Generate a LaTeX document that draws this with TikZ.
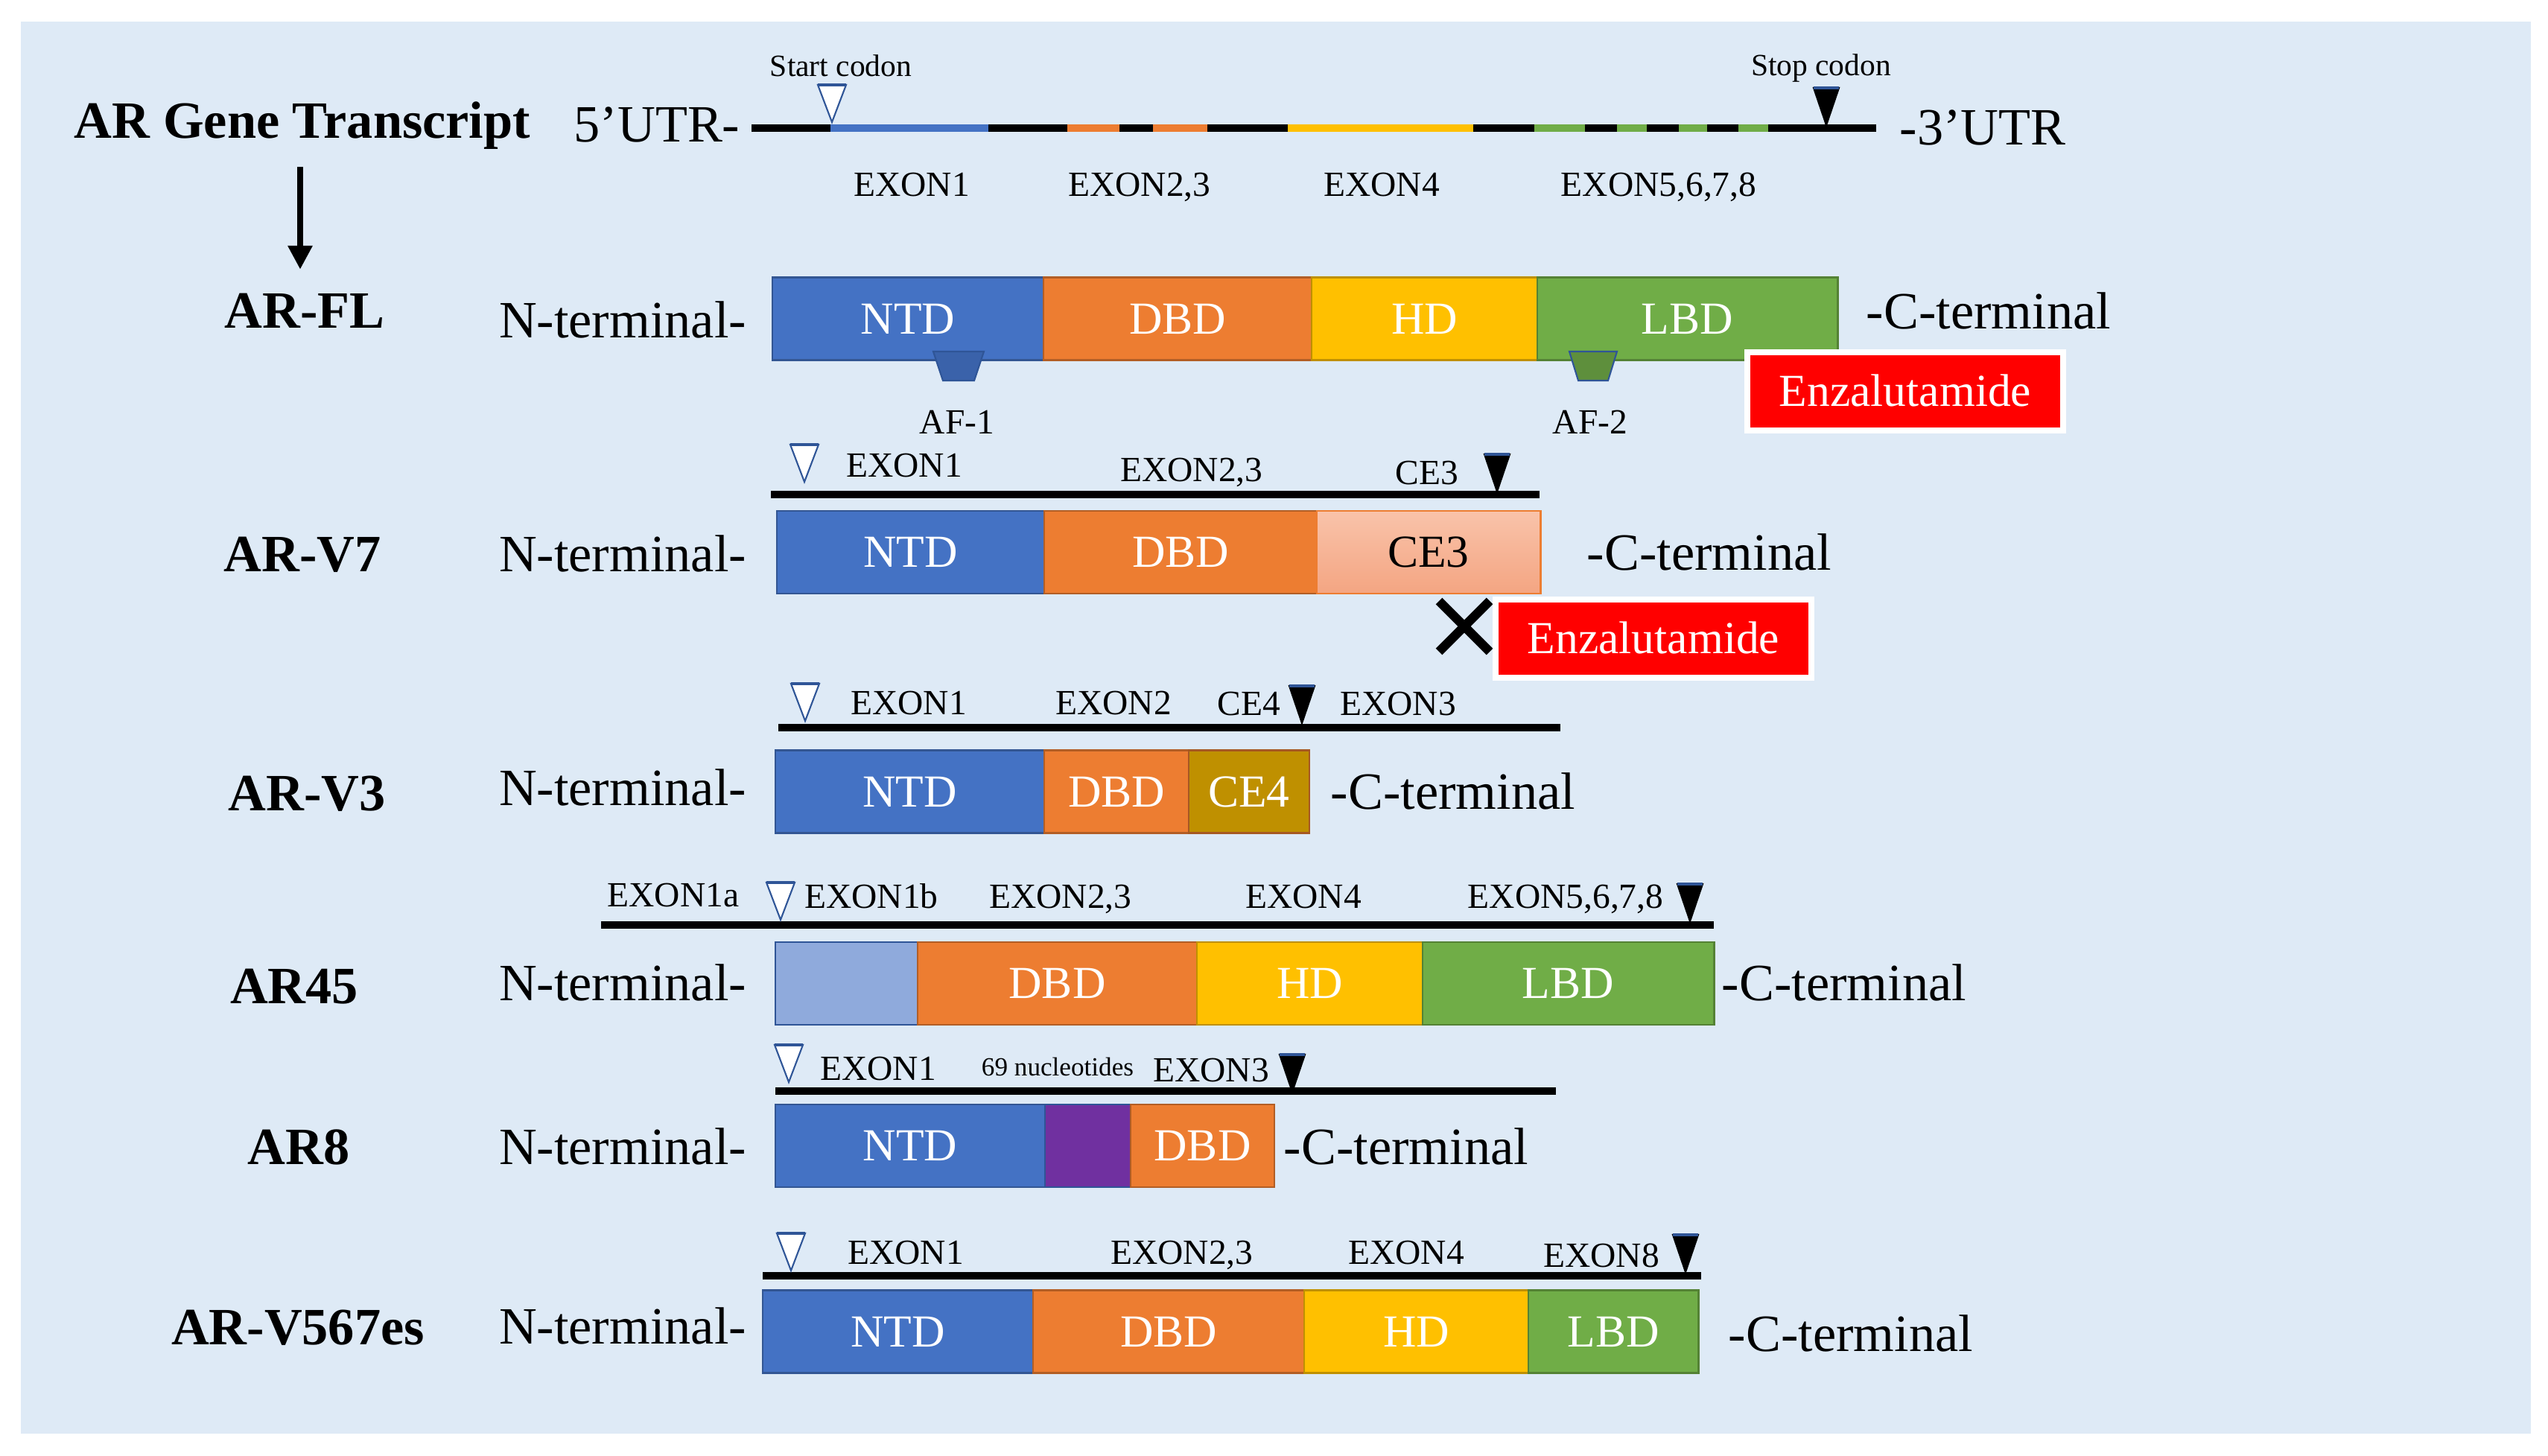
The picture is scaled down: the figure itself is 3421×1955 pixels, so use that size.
\documentclass[tikz,border=0pt]{standalone}
\usepackage{fontspec}
\setmainfont{Liberation Serif}
\usetikzlibrary{arrows.meta}
%Cores
\definecolor{bgblue}{HTML}{DEEAF6}
\definecolor{ntdblue}{HTML}{4472C4}
\definecolor{dbdorange}{HTML}{ED7D31}
\definecolor{hdyellow}{HTML}{FFC000}
\definecolor{lbdgreen}{HTML}{70AD47}
\definecolor{ce3top}{HTML}{F9C3AA}
\definecolor{ce3bot}{HTML}{F4A582}
\definecolor{ce4gold}{HTML}{BF9000}
\definecolor{exonblue}{HTML}{8FAADC}
\definecolor{nucpurple}{HTML}{7030A0}
\definecolor{markblue}{HTML}{2F5597}
\definecolor{drugred}{HTML}{FF0000}
\definecolor{af1blue}{HTML}{3A62AA}
\definecolor{af2green}{HTML}{5E8F3C}
%Estilos
\tikzset{
  big/.style={inner sep=0pt, font=\fontsize{20}{24}\selectfont, text height=13.1pt, text depth=0pt},
  isoform/.style={big, font=\fontsize{20}{24}\selectfont\bfseries},
  exon/.style={inner sep=0pt, font=\fontsize{13.5}{16}\selectfont, text height=8.85pt, text depth=0pt},
  codon/.style={inner sep=0pt, font=\fontsize{11.8}{14}\selectfont, text height=7.7pt, text depth=0pt},
  tiny/.style={inner sep=0pt, font=\fontsize{10}{12}\selectfont, text height=6.5pt, text depth=0pt},
  dom/.style={draw=#1!75!black, fill=#1, line width=0.8pt, minimum height=1.11cm, inner sep=0pt,
    text=white, font=\rmfamily\fontsize{17.5}{20}\selectfont, text height=11.5pt, text depth=0pt},
  drug/.style={fill=drugred, draw=white, line width=2.3pt, minimum width=4.24cm, minimum height=1.05cm,
    inner sep=0pt, text=white, font=\rmfamily\fontsize{17.5}{20}\selectfont, text height=11.5pt, text depth=0pt},
  dnaline/.style={line width=2.8pt},
  arr/.style={-{Triangle[width=9pt,length=9pt]}, line width=2pt},
  startcodon/.pic={\filldraw[fill=white, draw=markblue, line width=0.6pt] (-19,-50) -- (19,-50) -- (0,0) -- cycle;
    \draw[markblue, line width=1.3pt] (-19,-50) -- (19,-50);},
  stopcodon/.pic={\filldraw[fill=black, draw=black, line width=0.6pt] (-17,-50) -- (17,-50) -- (0,0) -- cycle;
    \draw[markblue, line width=1.3pt] (-17,-50) -- (17,-50);}
}
\begin{document}
\begin{tikzpicture}[x=0.01cm, y=-0.01cm]
\useasboundingbox (0,0) rectangle (3421,1955);
\fill[bgblue] (28,29) rectangle (3398,1925); %Fundo

	%Transcrito
\node[isoform] (title) at (406,162) {AR Gene Transcript};
\node[big] (utr5) at (882,167) {5’UTR-};
\node[big] (utr3) at (2662,171) {-3’UTR};
\draw[dnaline] (1009,172) -- (2519,172);
\foreach \a/\b/\c in {1115/1327/ntdblue, 1433/1503/dbdorange, 1548/1621/dbdorange, 1729/1978/hdyellow,
  2060/2128/lbdgreen, 2171/2211/lbdgreen, 2254/2292/lbdgreen, 2334/2374/lbdgreen}
  \draw[dnaline, draw=\c] (\a,172) -- (\b,172);
\pic at (1117,164) {startcodon};
\pic at (2452,168) {stopcodon};
\node[codon] (start) at (1129,89) {Start codon};
\node[codon] (stop) at (2445,88) {Stop codon};
\node[exon] (t-ex1) at (1224,248) {EXON1};
\node[exon] (t-ex23) at (1530,248) {EXON2,3};
\node[exon] (t-ex4) at (1855,248) {EXON4};
\node[exon] (t-ex58) at (2227,248) {EXON5,6,7,8};

	%AR-FL
\node[isoform] (arfl) at (409,417) {AR-FL};
\coordinate (arrx) at (403,0);
\draw[arr, shorten <=11pt, shorten >=9pt] (title.south -| arrx) -- (arfl.north -| arrx);
\node[big] (fl-n) at (836,430) {N-terminal-};
\node[dom=ntdblue, minimum width=3.64cm] (fl-ntd) at (1219,428) {NTD};
\node[dom=dbdorange, minimum width=3.60cm] (fl-dbd) at (1581,428) {DBD};
\node[dom=hdyellow, minimum width=3.03cm] (fl-hd) at (1912.5,428) {HD};
\node[dom=lbdgreen, minimum width=4.03cm] (fl-lbd) at (2265.5,428) {LBD};
\node[big] (fl-c) at (2670,418) {-C-terminal};
\filldraw[fill=af1blue, draw=markblue, line width=0.6pt] (1253,472) -- (1321,472) -- (1308,511) -- (1266,511) -- cycle; %AF-1
\filldraw[fill=af2green, draw=markblue, line width=0.6pt] (2107,472) -- (2171,472) -- (2159,511) -- (2119,511) -- cycle; %AF-2
\node[exon] (af1) at (1285,567) {AF-1};
\node[exon] (af2) at (2135,567) {AF-2};
\node[drug] (fl-drug) at (2558,525.5) {Enzalutamide};

	%AR-V7
\node[isoform] (arv7) at (406,744) {AR-V7};
\node[big] (v7-n) at (836,744) {N-terminal-};
\draw[dnaline] (1035,664) -- (2067,664);
\pic at (1080,647) {startcodon};
\pic at (2010,660) {stopcodon};
\node[exon] (v7-ex1) at (1214,625) {EXON1};
\node[exon] (v7-ex23) at (1600,631) {EXON2,3};
\node[exon] (v7-ce3) at (1916,635) {CE3};
\node[dom=ntdblue, minimum width=3.59cm] (v7-ntd) at (1222.5,741.5) {NTD};
\node[dom=dbdorange, minimum width=3.66cm] (v7-dbd) at (1585,741.5) {DBD};
\node[dom=dbdorange, top color=ce3top, bottom color=ce3bot, draw=dbdorange, text=black, minimum width=3.00cm] (v7-ce3box) at (1918,741.5) {CE3};
\node[big] (v7-c) at (2295,742) {-C-terminal};
\draw[line width=3.5pt] (1932,807) -- (2000,875) (2000,807) -- (1932,875); %X
\node[drug] (v7-drug) at (2220,857.5) {Enzalutamide};

	%AR-V3
\node[isoform] (arv3) at (412,1065) {AR-V3};
\node[big] (v3-n) at (836,1058) {N-terminal-};
\draw[dnaline] (1045,977) -- (2095,977);
\pic at (1081,968) {startcodon};
\pic at (1748,971) {stopcodon};
\node[exon] (v3-ex1) at (1220,944) {EXON1};
\node[exon] (v3-ex2) at (1495,944) {EXON2};
\node[exon] (v3-ce4) at (1677,945) {CE4};
\node[exon] (v3-ex3) at (1877,945) {EXON3};
\node[dom=ntdblue, minimum width=3.61cm] (v3-ntd) at (1221.5,1063) {NTD};
\node[dom=dbdorange, minimum width=1.94cm] (v3-dbd) at (1499,1063) {DBD};
\node[dom=ce4gold, draw=dbdorange!70!black, minimum width=1.62cm] (v3-ce4box) at (1677,1063) {CE4};
\node[big] (v3-c) at (1951,1063) {-C-terminal};

	%AR45
\node[isoform] (ar45) at (395,1324) {AR45};
\node[big] (ar45-n) at (836,1320) {N-terminal-};
\draw[dnaline] (807,1242) -- (2301,1242);
\pic at (1048,1235) {startcodon};
\pic at (2269,1237) {stopcodon};
\node[exon] (ar45-ex1a) at (904,1202) {EXON1a};
\node[exon] (ar45-ex1b) at (1170,1204) {EXON1b};
\node[exon] (ar45-ex23) at (1424,1204) {EXON2,3};
\node[exon] (ar45-ex4) at (1750,1204) {EXON4};
\node[exon] (ar45-ex58) at (2102,1204) {EXON5,6,7,8};
\node[dom=exonblue, draw=markblue, minimum width=1.91cm] (ar45-ntd) at (1136.5,1320.5) {};
\node[dom=dbdorange, minimum width=3.75cm] (ar45-dbd) at (1419.5,1320.5) {DBD};
\node[dom=hdyellow, minimum width=3.03cm] (ar45-hd) at (1758.5,1320.5) {HD};
\node[dom=lbdgreen, minimum width=3.91cm] (ar45-lbd) at (2105.5,1320.5) {LBD};
\node[big] (ar45-c) at (2476,1320) {-C-terminal};

	%AR8
\node[isoform] (ar8) at (401,1540) {AR8};
\node[big] (ar8-n) at (836,1540) {N-terminal-};
\draw[dnaline] (1041,1465) -- (2089,1465);
\pic at (1059,1453) {startcodon};
\pic at (1735,1466) {stopcodon};
\node[exon] (ar8-ex1) at (1179,1435) {EXON1};
\node[tiny] (ar8-nuc) at (1420,1433) {69 nucleotides};
\node[exon] (ar8-ex3) at (1626,1437) {EXON3};
\node[dom=ntdblue, minimum width=3.62cm] (ar8-ntd) at (1222,1538.5) {NTD};
\node[dom=nucpurple, draw=markblue, minimum width=1.15cm] (ar8-ins) at (1460.5,1538.5) {};
\node[dom=dbdorange, minimum width=1.93cm] (ar8-dbd) at (1614.5,1538.5) {DBD};
\node[big] (ar8-c) at (1888,1540) {-C-terminal};

	%AR-V567es
\node[isoform] (arv567) at (400,1782) {AR-V567es};
\node[big] (v567-n) at (836,1781) {N-terminal-};
\draw[dnaline] (1024,1713) -- (2284,1713);
\pic at (1062,1706) {startcodon};
\pic at (2263,1708) {stopcodon};
\node[exon] (v567-ex1) at (1216,1682) {EXON1};
\node[exon] (v567-ex23) at (1587,1682) {EXON2,3};
\node[exon] (v567-ex4) at (1888,1682) {EXON4};
\node[exon] (v567-ex8) at (2150,1686) {EXON8};
\node[dom=ntdblue, minimum width=3.63cm] (v567-ntd) at (1205.5,1788) {NTD};
\node[dom=dbdorange, minimum width=3.64cm] (v567-dbd) at (1569,1788) {DBD};
\node[dom=hdyellow, minimum width=3.01cm] (v567-hd) at (1901.5,1788) {HD};
\node[dom=lbdgreen, minimum width=2.28cm] (v567-lbd) at (2166,1788) {LBD};
\node[big] (v567-c) at (2485,1791) {-C-terminal};
\end{tikzpicture}
\end{document}
